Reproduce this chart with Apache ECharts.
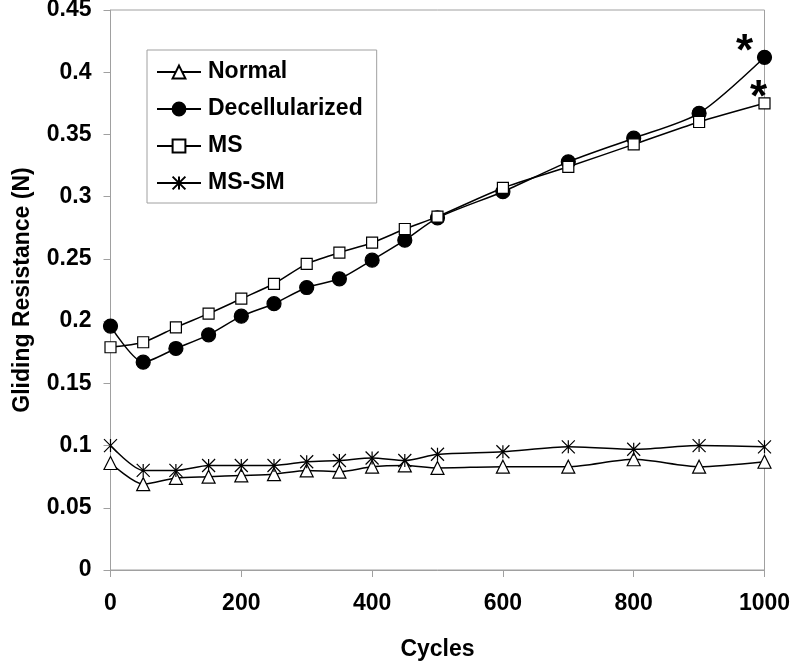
<!DOCTYPE html>
<html>
<head>
<meta charset="utf-8">
<script src="https://cdn.jsdelivr.net/npm/echarts@6/dist/echarts.min.js"></script>
<style>
html,body{margin:0;padding:0;background:#fff;}
#chart{width:792px;height:666px;}
</style>
</head>
<body>
<div id="chart"></div>
<script>
var cycles = [0, 50, 100, 150, 200, 250, 300, 350, 400, 450, 500, 600, 700, 800, 900, 1000];
var normal = [0.086, 0.069, 0.074, 0.075, 0.076, 0.077, 0.080, 0.079, 0.083, 0.084, 0.082, 0.083, 0.083, 0.089, 0.083, 0.087];
var decellularized = [0.196, 0.167, 0.178, 0.189, 0.204, 0.214, 0.227, 0.234, 0.249, 0.265, 0.283, 0.304, 0.328, 0.347, 0.367, 0.412];
var ms = [0.179, 0.183, 0.195, 0.206, 0.218, 0.230, 0.246, 0.255, 0.263, 0.274, 0.284, 0.307, 0.324, 0.342, 0.360, 0.375];
var msSm = [0.100, 0.080, 0.080, 0.084, 0.084, 0.084, 0.087, 0.088, 0.090, 0.088, 0.093, 0.095, 0.099, 0.097, 0.100, 0.099];
var seriesNames = ['Normal', 'Decellularized', 'MS', 'MS-SM'];
var yTicks = [0, 0.05, 0.1, 0.15, 0.2, 0.25, 0.3, 0.35, 0.4, 0.45];
var xTicks = [0, 200, 400, 600, 800, 1000];
var significanceMark = '*';

var FONT = '"Liberation Sans", Arial, sans-serif';
var STAR = 'path://M0,0L10,10M10,0L0,10M5,0L5,10';

function pairs(vals, markLast, offset) {
  return vals.map(function (v, i) {
    var item = { value: [cycles[i], v] };
    if (markLast && i === vals.length - 1) {
      item.label = {
        show: true,
        formatter: significanceMark,
        position: 'inside',
        offset: offset,
        color: '#000',
        fontFamily: FONT,
        fontWeight: 'bold',
        fontSize: 44
      };
    }
    return item;
  });
}

function mkSeries(name, vals, symbol, size, fill, markLast, offset) {
  return {
    name: name,
    type: 'line',
    data: pairs(vals, markLast, offset),
    smooth: 0.25,
    symbol: symbol,
    symbolSize: size,
    showAllSymbol: true,
    lineStyle: { color: '#000', width: 1.5 },
    itemStyle: { color: fill, borderColor: '#000', borderWidth: 1.2 },
    emphasis: { disabled: true },
    z: 2
  };
}

var chart = echarts.init(document.getElementById('chart'), null, { renderer: 'canvas' });
chart.setOption({
  animation: false,
  backgroundColor: '#fff',
  grid: { left: 110.5, right: 27.5, top: 10, bottom: 96, show: true, borderColor: '#a0a0a0', borderWidth: 1, containLabel: false, outerBoundsMode: 'none' },
  legend: {
    data: seriesNames,
    orient: 'vertical',
    left: 147,
    top: 50,
    padding: [10, 14, 8, 9],
    itemGap: 13,
    itemWidth: 44,
    itemHeight: 16,
    borderColor: '#a0a0a0',
    borderWidth: 1,
    backgroundColor: '#fff',
    textStyle: { fontFamily: FONT, fontWeight: 'bold', fontSize: 23, color: '#000', lineHeight: 24, padding: [0, 0, 0, 2] }
  },
  xAxis: {
    type: 'value',
    min: xTicks[0],
    max: xTicks[xTicks.length - 1],
    interval: 200,
    name: 'Cycles',
    nameLocation: 'middle',
    nameGap: 68.5,
    nameTextStyle: { fontFamily: FONT, fontWeight: 'bold', fontSize: 23, color: '#000' },
    axisLine: { lineStyle: { color: '#a0a0a0', width: 1 } },
    axisTick: { show: true, length: 7, lineStyle: { color: '#a0a0a0' } },
    axisLabel: { fontFamily: FONT, fontWeight: 'bold', fontSize: 23, color: '#000', margin: 22.5, formatter: function (v) { return String(v); } },
    splitLine: { show: false }
  },
  yAxis: {
    type: 'value',
    min: yTicks[0],
    max: yTicks[yTicks.length - 1],
    interval: 0.05,
    name: 'Gliding Resistance (N)',
    nameLocation: 'middle',
    nameGap: 76,
    nameTextStyle: { fontFamily: FONT, fontWeight: 'bold', fontSize: 23, color: '#000' },
    axisLine: { show: true, lineStyle: { color: '#a0a0a0', width: 1 } },
    axisTick: { show: true, length: 7, lineStyle: { color: '#a0a0a0' } },
    axisLabel: { fontFamily: FONT, fontWeight: 'bold', fontSize: 23, color: '#000', margin: 19, formatter: function (v) { return String(Math.round(v * 100) / 100); } },
    splitLine: { show: false }
  },
  series: [
    mkSeries(seriesNames[0], normal, 'triangle', 13, '#fff', false),
    mkSeries(seriesNames[1], decellularized, 'circle', 14, '#000', true, [-20, -4]),
    mkSeries(seriesNames[2], ms, 'rect', 11, '#fff', true, [-6, -4]),
    mkSeries(seriesNames[3], msSm, STAR, 13, 'none', false)
  ]
});
</script>
</body>
</html>
